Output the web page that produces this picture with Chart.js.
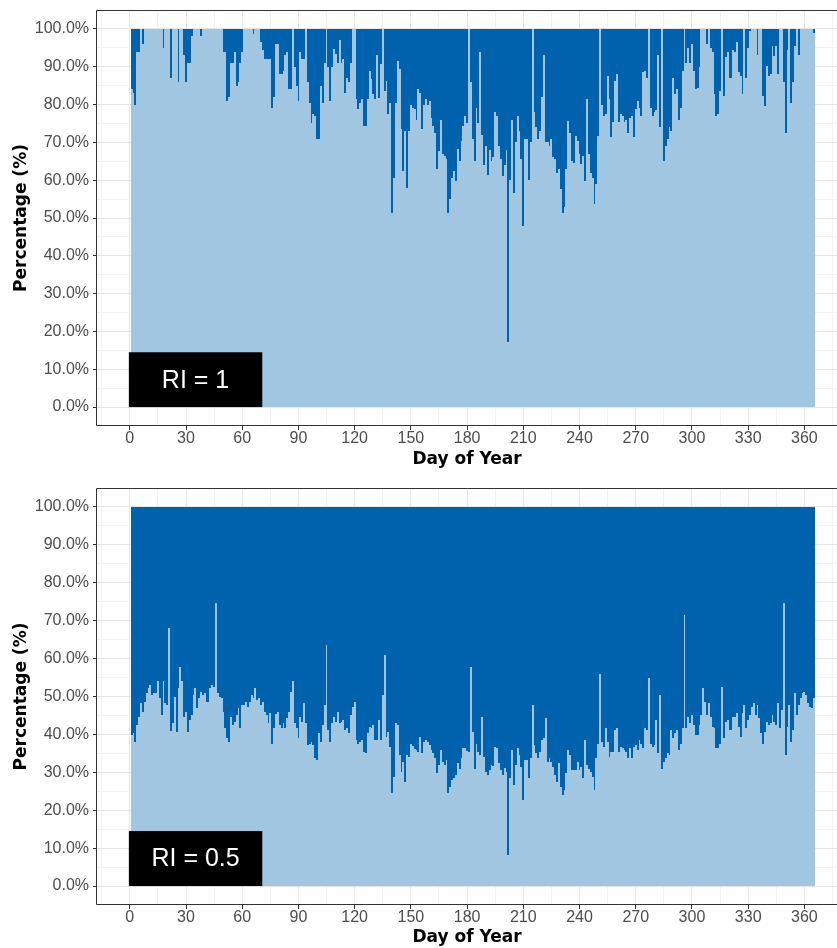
<!DOCTYPE html>
<html>
<head>
<meta charset="utf-8">
<script src="https://cdn.jsdelivr.net/npm/chart.js@4.4.1/dist/chart.umd.min.js"></script>
<style>
html,body{margin:0;padding:0;background:#fff;overflow:hidden;}
#wrap{position:relative;width:837px;height:948px;}
canvas{position:absolute;left:0;}
#c1{top:0;}
#c2{top:478px;}
</style>
</head>
<body>
<div id="wrap">
<canvas id="c1" width="837" height="474"></canvas>
<canvas id="c2" width="837" height="470"></canvas>
</div>
<script>
// ---- data ----
const days = Array.from({length: 365}, (_, i) => i + 1);

// light (bottom) share in %, RI = 1
const ri1Share = [
84,83,80,94,94,100,96,100,100,100,
100,100,100,100,100,100,100,95,100,100,
100,87,100,100,100,86,100,100,93,86,
91,91,98,100,100,100,100,98,100,100,
100,100,100,100,100,100,100,100,100,94,
94,81,82,91,91,94,85,86,91,94,
100,100,100,100,100,98.6,100,100,100,96.5,
94.5,92,92,92,92,79,82,96,96,88,
88,89,93,94,84,84,100,90,85,81,
94,92,92,100,86,80.5,75,77.5,77,71,
71,85,80.5,91,100,90,81,90,94.7,93.4,
91,97,91,92,83,87,86,91,100,100,
81.4,78.8,80.5,81.4,74.4,74.4,81.4,89,86.8,82.8,
81.4,93,81.8,90.7,100,83.6,86.3,77.5,80.5,51.4,
60.7,80.5,91.6,89.4,73.5,62.4,73,58,73,80,
79,78.8,76,84,83,73.5,80,81.4,80,81,
76.5,74.4,72.6,62.9,67.7,76,67,66.4,65.5,51.4,
55,60.7,62.4,59.7,68.2,65,70.4,74.4,77,75,
100,86,71,65,79,75,94,72,64,69,
61.5,68,65,66,78,77,69,65.5,61,64,
68,17.3,60,76,56.7,70,77,73,65.5,48,
71,71,60,70,100,78,74,71,73,82,
93,70,70,69,71,66,65.5,62,63,57.6,
51.4,53,63,75.7,72.6,65,64.5,71.7,70.4,67,
64.2,66.4,59.7,81.4,67,62,60.6,53.6,58.9,71.7,
100,80,77,77.5,87.6,81.4,71.3,75.3,86.3,88,
75.3,77.5,77,75.3,76,72.6,76.5,77,71.3,78.8,
81,79,77,88.5,89,87,100,79,77,78,
78.5,93,74,100,65,69,71,74,73,87,
82.8,84,76,79,89,100,91,95,91,96,
89,84,84.5,90,100,100,100,96,100,95,
94,82.8,77,77.5,83.6,100,82.3,92.5,93.8,87,
87,94.3,93.8,96.5,88.5,87.6,82.8,100,87,95,
99.5,100,100,100,93,100,100,82.3,79.7,90.3,
87.6,88,95.6,92.9,95.6,88,100,100,86,72.6,
94.3,100,80.5,86,95.6,100,93,100,100,100,
100,100,100,100,99
];

// light (bottom) share in %, RI = 0.5
const ri05Share = [
39.8,40.3,38,42.5,44.7,48.2,46,48.6,50.8,52.2,
53,50.4,50.8,51,54,49.5,45,54,48.2,47.7,
68,41,43,50,40.7,52.2,57.9,54,44.7,46,
40.7,43.8,45,50.4,52.2,46.9,49.5,51.3,50.4,50.8,
48.6,48.6,52.2,53,52.6,74.6,50.8,50,49.5,46,
41.6,39,38,44.7,42.5,43.4,45,46.9,41.6,47.8,
47.8,48.6,47.3,48.6,50.4,49.5,52.2,49,49.5,47.8,
48.6,46,45,43,45.7,37.6,41.6,45.5,46,42.5,
41.6,43,41.6,44.3,46,51.3,54,43,41.6,39,
44.7,43.4,48.2,43,37.2,37.6,38,37.2,33.7,33.2,
40.3,38,42.5,47.8,63.6,41.2,38,43,44.7,43.4,
46,43,43.4,43.8,41.2,41.6,40.3,45,47.3,48.6,
38.5,37.6,38,38.5,35.4,35,40.3,42,41.6,42.5,
38.5,38.5,43.8,38.5,50.4,61,39.4,40.7,36.8,24.5,
28.8,43,42.5,34.6,30.2,32.8,27.5,34.6,34,37.6,
37,36.2,35.9,35.4,39.4,35,38,38.5,38,37.2,
35.9,35,33.7,29.7,32,36,32.8,32,33.2,24.5,
26.2,28,28.4,29.3,32.4,31,33.7,36.4,36.3,35.5,
35.4,57.9,40.7,31,37.6,35.4,34.6,44.7,34,30.2,
29.3,30.6,32,31.6,36.8,36.3,32.4,30.6,29.3,31.2,
30.2,8.2,28.4,35.9,26.6,31.9,36.3,34.6,31.5,22.7,
33.2,33.2,28.4,33.7,47.8,37.2,35,33.7,35.4,38.5,
39,44.2,32.8,33.7,32.8,31.5,29.3,27.5,32.4,26.2,
24,25.3,29.7,35.9,34.6,30.6,30.6,30.6,32.8,30.6,
31.5,28.4,38.5,31.9,31,30.2,28.8,25.3,33.7,37.6,
56,38,36.8,41.6,38,34.1,35.4,35.4,41.2,41.6,
35.4,36.8,36.3,35.9,35.4,33.7,36.3,33.7,36.8,37.2,
35.9,38.5,37.6,36.3,41.6,41.2,54.8,37.6,36.8,37.2,
43.8,35,50.4,31,32.8,33.7,35,34.6,41.2,39,
40.3,41.2,35.9,37.6,41.6,71.5,41.6,44.7,42.9,45.1,
42.5,39.8,39.8,42.5,45.1,52.2,48.6,45.1,48.2,44.7,
42,41.6,36.3,36.3,37.6,52.6,39,43.4,43.8,41.2,
41.2,44.7,44.7,45.6,42,39.4,45.6,47.8,41.6,43.8,
45.1,47.3,48.2,45.1,47.8,44.2,40.3,37.6,40.7,43.4,
42.5,42.9,45.1,43.4,42.5,48.2,41.6,46.4,74.6,34.6,
42,47.8,38.1,41.2,50.8,45.1,47.8,49.5,50.8,51.3,
50.4,48.2,47.3,46.9,49.5
];

const xTickValues = [-15,0,15,30,45,60,75,90,105,120,135,150,165,180,195,210,225,240,255,270,285,300,315,330,345,360,375];
const xLabelValues = [0,30,60,90,120,150,180,210,240,270,300,330,360];
const yTickValues = [0,5,10,15,20,25,30,35,40,45,50,55,60,65,70,75,80,85,90,95,100];
const yLabelValues = [0,10,20,30,40,50,60,70,80,90,100];
const panelLabels = ['RI = 1', 'RI = 0.5'];

// ---- style ----
const LIGHT = '#A0C6E1';
const DARK = '#0062AC';
const GRID_MAJOR = '#E6E6E6';
const GRID_MINOR = '#F2F2F2';
const AXIS = '#333333';
const TICK_TEXT = '#4D4D4D';

// snap bar edges to whole pixels so adjacent bars meet without seams
const snapPlugin = {
  id: 'snap',
  beforeDatasetsDraw(chart) {
    chart.data.datasets.forEach((ds, i) => {
      const meta = chart.getDatasetMeta(i);
      meta.data.forEach(el => {
        const half = el.width / 2;
        const l = Math.round(el.x - half);
        const r = Math.round(el.x + half);
        el.x = (l + r) / 2;
        el.width = r - l;
        el.y = Math.round(el.y);
        el.base = Math.round(el.base);
      });
    });
  }
};

const framePlugin = {
  id: 'frame',
  afterDatasetsDraw(chart, args, opts) {
    const {ctx, chartArea, scales} = chart;
    const x = scales.x, y = scales.y;
    ctx.save();
    // label box
    const bx0 = x.getPixelForValue(-0.5), bx1 = x.getPixelForValue(70.7);
    const by0 = y.getPixelForValue(0), by1 = y.getPixelForValue(14.5);
    ctx.fillStyle = '#000';
    ctx.fillRect(bx0, by1, bx1 - bx0, by0 - by1);
    ctx.fillStyle = '#fff';
    ctx.font = '25px "Liberation Sans", Arial, sans-serif';
    ctx.textAlign = 'center';
    ctx.textBaseline = 'middle';
    ctx.fillText(opts.text, (bx0 + bx1) / 2, (by0 + by1) / 2 + 1);
    // panel frame
    const l = Math.round(chartArea.left) - 0.5;
    const t = Math.round(chartArea.top) + 0.5;
    const b = Math.round(chartArea.bottom) - 0.5;
    ctx.strokeStyle = AXIS;
    ctx.lineWidth = 1;
    ctx.beginPath();
    ctx.moveTo(chartArea.right + 2, t);
    ctx.lineTo(l, t);
    ctx.lineTo(l, b);
    ctx.lineTo(chartArea.right + 2, b);
    ctx.stroke();
    ctx.restore();
  }
};

function makeChart(canvasId, values, label, xAxisHeight, xTitlePadBottom) {
  const ctx = document.getElementById(canvasId);
  return new Chart(ctx, {
    type: 'bar',
    data: {
      datasets: [
        {
          label: 'share',
          data: days.map((d, i) => ({x: d, y: values[i]})),
          backgroundColor: LIGHT,
          borderWidth: 0,
          inflateAmount: 0,
          barPercentage: 1,
          categoryPercentage: 1
        },
        {
          label: 'rest',
          data: days.map((d, i) => ({x: d, y: 100 - values[i]})),
          backgroundColor: DARK,
          borderWidth: 0,
          inflateAmount: 0,
          barPercentage: 1,
          categoryPercentage: 1
        }
      ]
    },
    options: {
      responsive: false,
      animation: false,
      devicePixelRatio: 1,
      layout: {padding: {top: 10, left: 0, right: 0, bottom: 0}},
      plugins: {
        legend: {display: false},
        tooltip: {enabled: false},
        frame: {text: label}
      },
      scales: {
        x: {
          type: 'linear',
          min: -17.5,
          max: 377.4,
          stacked: true,
          offset: false,
          afterBuildTicks: ax => { ax.ticks = xTickValues.map(v => ({value: v})); },
          afterFit: ax => { ax.height = xAxisHeight; ax.paddingLeft = 0; ax.paddingRight = 0; },
          border: {display: false},
          grid: {
            offset: false,
            drawTicks: true,
            tickLength: 4,
            lineWidth: 1,
            color: c => xLabelValues.includes(c.tick && c.tick.value) ? GRID_MAJOR : GRID_MINOR,
            tickColor: c => xLabelValues.includes(c.tick && c.tick.value) ? AXIS : 'rgba(0,0,0,0)'
          },
          ticks: {
            autoSkip: false,
            maxRotation: 0,
            minRotation: 0,
            padding: 1,
            color: TICK_TEXT,
            font: {family: '"Liberation Sans", Arial, sans-serif', size: 16, lineHeight: 1},
            callback: v => xLabelValues.includes(v) ? String(v) : ''
          },
          title: {
            display: true,
            text: 'Day of Year',
            color: '#000',
            font: {family: '"DejaVu Sans", sans-serif', weight: 'bold', size: 17},
            padding: {top: 0, bottom: xTitlePadBottom}
          }
        },
        y: {
          min: -5,
          max: 105,
          stacked: true,
          afterBuildTicks: ax => { ax.ticks = yTickValues.map(v => ({value: v})); },
          afterFit: ax => { ax.width = 97; ax.paddingTop = 0; ax.paddingBottom = 0; },
          border: {display: false},
          grid: {
            drawTicks: true,
            tickLength: 4,
            lineWidth: 1,
            color: c => yLabelValues.includes(c.tick && c.tick.value) ? GRID_MAJOR : GRID_MINOR,
            tickColor: c => yLabelValues.includes(c.tick && c.tick.value) ? AXIS : 'rgba(0,0,0,0)'
          },
          ticks: {
            autoSkip: false,
            padding: 4,
            color: TICK_TEXT,
            font: {family: '"Liberation Sans", Arial, sans-serif', size: 16},
            callback: v => yLabelValues.includes(v) ? v.toFixed(1) + '%' : ''
          },
          title: {
            display: true,
            text: 'Percentage (%)',
            color: '#000',
            font: {family: '"DejaVu Sans", sans-serif', weight: 'bold', size: 17},
            padding: {top: 11, bottom: 0}
          }
        }
      }
    },
    plugins: [snapPlugin, framePlugin]
  });
}

makeChart('c1', ri1Share, panelLabels[0], 48, 4);
makeChart('c2', ri05Share, panelLabels[1], 43, 0);
</script>
</body>
</html>
